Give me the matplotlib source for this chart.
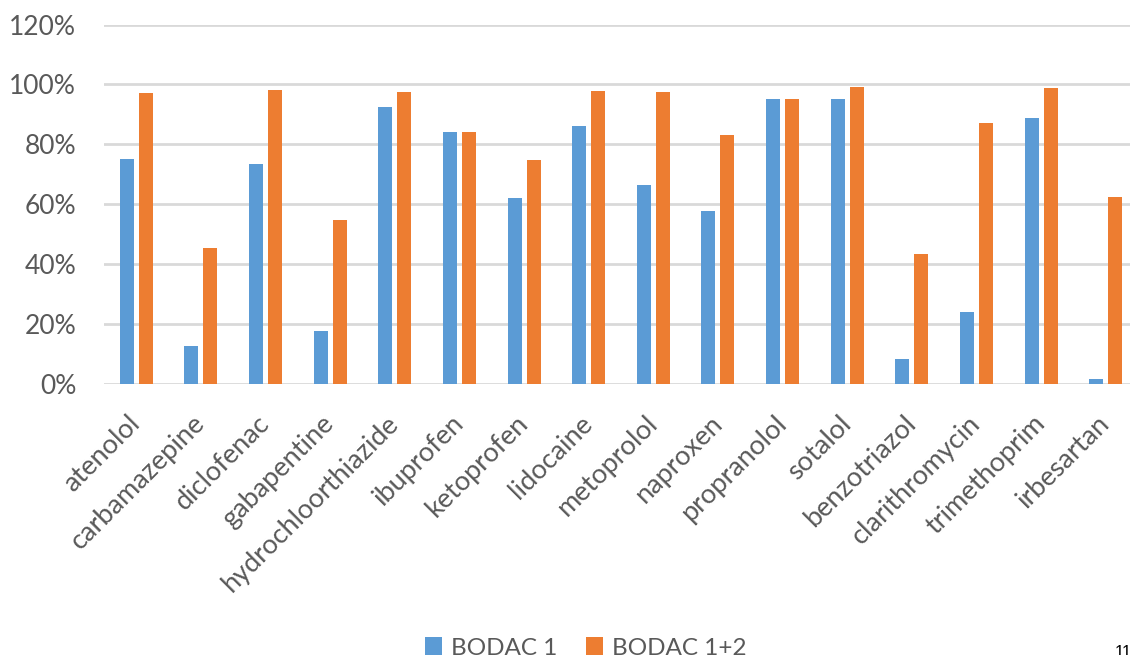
import matplotlib
matplotlib.use("Agg")
import matplotlib.pyplot as plt
from matplotlib.patches import Patch
from matplotlib.ticker import FuncFormatter
import numpy as np

compounds = ["atenolol", "carbamazepine", "diclofenac", "gabapentine",
             "hydrochloorthiazide", "ibuprofen", "ketoprofen", "lidocaine",
             "metoprolol", "naproxen", "propranolol", "sotalol",
             "benzotriazol", "clarithromycin", "trimethoprim", "irbesartan"]
bodac_1 = [0.750, 0.125, 0.735, 0.176, 0.924, 0.840, 0.621, 0.861,
           0.663, 0.578, 0.950, 0.950, 0.081, 0.238, 0.888, 0.014]
bodac_12 = [0.970, 0.453, 0.983, 0.548, 0.973, 0.840, 0.748, 0.977,
            0.976, 0.830, 0.950, 0.993, 0.433, 0.872, 0.987, 0.625]
series_names = ["BODAC 1", "BODAC 1+2"]
y_ticks = [0.0, 0.2, 0.4, 0.6, 0.8, 1.0, 1.2]

BLUE = "#5B9BD5"
ORANGE = "#ED7D31"
GRID = "#D9D9D9"
TEXT = "#595959"

plt.rcParams["font.family"] = ["Lato", "DejaVu Sans"]

W, H = 1130, 655
fig = plt.figure(figsize=(W / 100, H / 100), dpi=100)
# plot area runs slightly past the right edge of the canvas
ax = fig.add_axes([104 / W, (H - 383.5) / H, (1138 - 104) / W, (383.5 - 24.6) / H])

x = np.arange(len(compounds))
bw = 0.217
off = 0.147
ax.bar(x - off, bodac_1, bw, color=BLUE, zorder=3)
ax.bar(x + off, bodac_12, bw, color=ORANGE, zorder=3)

ax.set_xlim(-0.5, len(compounds) - 0.5)
ax.set_ylim(0, 1.2)
ax.set_yticks(y_ticks)
ax.yaxis.set_major_formatter(FuncFormatter(lambda v, p: f"{v * 100:.0f}%"))
ax.grid(axis="y", color=GRID, linewidth=2.0, zorder=0)
ax.set_axisbelow(True)
for s in ax.spines.values():
    s.set_visible(False)
ax.tick_params(axis="both", length=0, colors=TEXT, labelsize=19)
ax.tick_params(axis="y", pad=20)

ax.set_xticks(x)
ax.set_xticklabels(compounds, rotation=45, ha="right", va="center",
                   rotation_mode="anchor", color=TEXT, fontsize=19.5)
ax.tick_params(axis="x", pad=26)

handles = [Patch(facecolor=BLUE, edgecolor="none"),
           Patch(facecolor=ORANGE, edgecolor="none")]
fig.legend(handles, series_names, loc="center", ncol=2, frameon=False,
           bbox_to_anchor=(586 / W, (H - 648) / H), fontsize=17.5,
           labelcolor=TEXT, handlelength=0.7, handleheight=0.7,
           handletextpad=0.35, columnspacing=1.2)

fig.text(1115 / W, (H - 645) / H, "11", fontsize=12, color="black",
         family="Liberation Sans", va="top", ha="left")

fig.savefig("out.png", dpi=100, facecolor="white")
